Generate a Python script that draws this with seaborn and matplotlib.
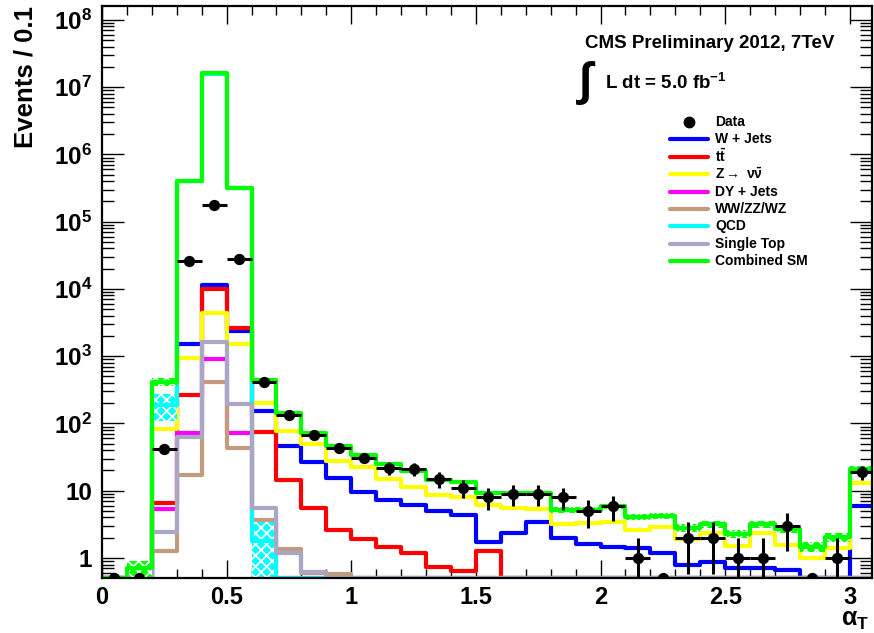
import numpy as np
import pandas as pd
import matplotlib
matplotlib.use("Agg")
import matplotlib.pyplot as plt
from matplotlib.lines import Line2D
from matplotlib.ticker import FixedLocator, LogLocator, NullFormatter, FixedFormatter
import seaborn as sns

# ---- binning: alpha_T in bins of 0.1 ----
edges = np.round(np.arange(0.0, 3.15, 0.1), 2)[:32]
centers = np.round((edges[:-1] + edges[1:]) / 2, 3)

# ---- observed events per bin ----
data = [0, 0, 42, 26000, 178000, 28000, 414, 134, 67, 43, 31, 22, 21, 15, 11, 8,
        9, 9, 8, 5, 6, 1, 0, 2, 2, 1, 1, 3, 0, 1, 19]

# ---- simulated backgrounds per bin ----
wjets = [0, 0, 125, 1520, 11500, 2370, 153, 46, 27, 15.5, 9.6, 7.2, 6.2, 5.0, 4.4, 1.73,
         2.35, 3.4, 2.0, 1.6, 1.46, 1.4, 1.19, 0.79, 0.86, 0.71, 0.71, 0.66, 0, 0, 5.9]
ttbar = [0, 0, 6.6, 265, 10000, 2630, 75, 14.5, 5.5, 2.6, 1.9, 1.46, 1.19, 0.73, 0.64, 1.27,
         0, 0, 0, 0, 0, 0, 0, 0, 0, 0, 0, 0, 0, 0, 0]
zinv = [0, 0, 83, 940, 4400, 1520, 200, 78, 50, 27.7, 22.5, 15, 11.4, 8.6, 8.1, 6.1,
        5.5, 5.3, 3.2, 3.3, 3.4, 2.6, 2.9, 1.9, 2.35, 1.5, 2.35, 1.56, 1.0, 1.4, 13]
dyjets = [0, 0, 5.3, 72, 910, 72, 3.2, 0, 0, 0, 0, 0, 0, 0, 0, 0,
          0, 0, 0, 0, 0, 0, 0, 0, 0, 0, 0, 0, 0, 0, 0]
diboson = [0, 0, 1.27, 17, 414, 43, 3.7, 1.36, 0.6, 0.58, 0, 0, 0, 0, 0, 0,
           0, 0, 0, 0, 0, 0, 0, 0, 0, 0, 0, 0, 0, 0, 0]
qcd = [0, 0.5, 190, 397000, 15900000, 315000, 1.8, 0, 0, 0, 0, 0, 0, 0, 0, 0,
       0, 0, 0, 0, 0, 0, 0, 0, 0, 0, 0, 0, 0, 0, 0]
qcd_err = [0, 0, 80, 0, 0, 0, 1.6, 0, 0, 0, 0, 0, 0, 0, 0, 0,
           0, 0, 0, 0, 0, 0, 0, 0, 0, 0, 0, 0, 0, 0, 0]
singletop = [0, 0, 2.4, 63, 1620, 195, 5.5, 1.19, 0.62, 0, 0, 0, 0, 0, 0, 0,
             0, 0, 0, 0, 0, 0, 0, 0, 0, 0, 0, 0, 0, 0, 0]
combined = [0.5, 0.7, 420, 400000, 16000000, 320000, 440, 143, 72, 46, 34, 25, 19.7, 14.5, 13.5, 9.3,
            9.3, 9.2, 5.2, 5.2, 5.9, 4.1, 4.2, 2.8, 3.2, 2.3, 3.2, 2.7, 1.46, 2.05, 21]
combined_err = [0, 0.2, 60, 0, 0, 0, 0, 0, 0, 0, 0, 0, 0.5, 0.5, 0.8, 0.6,
                0.6, 0.6, 0.5, 0.5, 0.5, 0.45, 0.45, 0.4, 0.4, 0.35, 0.4, 0.35, 0.25, 0.3, 2.5]

labels = ["W + Jets", r"t$\mathbf{\bar{t}}$", r"Z$\rightarrow$ $\mathrm{\nu\bar{\nu}}$", "DY + Jets",
          "WW/ZZ/WZ", "QCD", "Single Top", "Combined SM"]
colors = ["#0000ff", "#ff0000", "#ffff00", "#ff00ff", "#c49a7e", "#00ffff", "#a8a8c4", "#00ff00"]
series = [wjets, ttbar, zinv, dyjets, diboson, qcd, singletop, combined]

YMIN, YMAX = 0.504, 1.61e8
XMAX = 3.089

sns.set_style("ticks")
plt.rcParams["font.family"] = ["Liberation Sans", "DejaVu Sans"]
plt.rcParams["font.weight"] = "bold"
plt.rcParams["text.color"] = "black"
plt.rcParams["axes.labelcolor"] = "black"
plt.rcParams["xtick.color"] = "black"
plt.rcParams["ytick.color"] = "black"
plt.rcParams["xtick.labelcolor"] = "black"
plt.rcParams["ytick.labelcolor"] = "black"
plt.rcParams["mathtext.fontset"] = "custom"
plt.rcParams["mathtext.rm"] = "Liberation Sans:bold"
plt.rcParams["mathtext.bf"] = "Liberation Sans:bold"
plt.rcParams["mathtext.it"] = "Liberation Sans:bold:italic"
plt.rcParams["hatch.linewidth"] = 1.3

W, H = 874, 633
fig = plt.figure(figsize=(W / 100, H / 100), dpi=100)
ax = fig.add_axes([102 / W, 1 - 578 / H, (872 - 102) / W, (578 - 6) / H])
ax.set_yscale("log")


def band(values, errs, color, z):
    v = np.asarray(values, float)
    e = np.asarray(errs, float)
    m = e > 0
    lo = np.maximum(v - e, YMIN * 0.5)
    ax.bar(centers[m], (v + e)[m] - lo[m], bottom=lo[m], width=0.1, align="center",
           color=color, edgecolor="white", hatch="xxx", linewidth=0, zorder=z)


def step(values, color, z):
    frame = pd.DataFrame({"alpha_t": centers,
                          "events": np.maximum(np.asarray(values, float), YMIN)})
    sns.histplot(data=frame, x="alpha_t", weights="events", bins=list(edges),
                 element="step", fill=False, color=color, linewidth=3.0, ax=ax, zorder=z)


for i, (vals, col) in enumerate(zip(series, colors)):
    if vals is qcd:
        band(qcd, qcd_err, col, 2 + i * 2)
    if vals is combined:
        band(combined, combined_err, col, 2 + i * 2)
    step(vals, col, 3 + i * 2)

# observed points with Poisson errors
d = np.asarray(data, float)
nz = d > 0
yerr = np.sqrt(d[nz])
ax.errorbar(centers[nz], d[nz], xerr=0.05, yerr=[yerr, yerr], fmt="none",
            ecolor="black", elinewidth=2.2, capsize=0, zorder=30)
sns.scatterplot(x=centers, y=np.where(nz, d, YMIN), color="black", s=66,
                edgecolor="black", linewidth=0, ax=ax, zorder=31, legend=False)

ax.set_xlim(0, XMAX)
ax.set_ylim(YMIN, YMAX)

# ticks: inward on all four sides
ax.xaxis.set_major_locator(FixedLocator([0, 0.5, 1, 1.5, 2, 2.5, 3]))
ax.xaxis.set_major_formatter(FixedFormatter(["0", "0.5", "1", "1.5", "2", "2.5", "3"]))
ax.xaxis.set_minor_locator(FixedLocator(np.round(np.arange(0, 3.1, 0.1), 2)))
yt = [1, 10, 1e2, 1e3, 1e4, 1e5, 1e6, 1e7, 1e8]
ax.yaxis.set_major_locator(FixedLocator(yt))
ax.yaxis.set_major_formatter(FixedFormatter(
    ["1", "10"] + [r"$\mathbf{10^{%d}}$" % k for k in range(2, 9)]))
ax.yaxis.set_minor_locator(LogLocator(base=10, subs=np.arange(2, 10), numticks=20))
ax.yaxis.set_minor_formatter(NullFormatter())
ax.tick_params(which="both", direction="in", top=True, right=True, width=1.0,
               color="black", labelcolor="black")
ax.tick_params(axis="x", which="major", length=13, labelsize=17, pad=6)
ax.tick_params(axis="x", which="minor", length=6.5)
ax.tick_params(axis="y", which="major", length=16, labelsize=17.5, pad=7)
ax.tick_params(axis="y", which="minor", length=8.5)
for lab in ax.get_xticklabels() + ax.get_yticklabels():
    lab.set_fontweight("bold")
for s in ax.spines.values():
    s.set_linewidth(1.6)
    s.set_color("black")
    s.set_zorder(40)

ax.set_xlabel("")
ax.set_ylabel("Events / 0.1", fontsize=18.5, fontweight="bold", loc="top", labelpad=12,
              color="black")

# axis title for alpha_T
fig.text(869 / W, 1 - 620 / H, r"$\mathrm{\alpha}_{\mathbf{T}}$", ha="right", va="center", fontsize=18)

# header texts
fig.text(585 / W, 1 - 44 / H, "CMS Preliminary 2012, 7TeV", fontsize=13.5,
         fontweight="bold", va="center", ha="left")
fig.text(576 / W, 1 - 83 / H, r"$\int$", fontsize=34, va="center", ha="left")
fig.text(605 / W, 1 - 83 / H, r"L dt = 5.0 fb$^{\mathbf{-1}}$", fontsize=13.5,
         fontweight="bold", va="center", ha="left")

# legend block
row0, pitch = 122, 17.4
fig.add_artist(Line2D([689 / W], [1 - row0 / H], marker="o", color="black", markersize=7.5,
                      linestyle="none", transform=fig.transFigure))
fig.text(715 / W, 1 - row0 / H, "Data", fontsize=10, fontweight="bold", va="center")
for i, (lab, col) in enumerate(zip(labels, colors)):
    yy = 1 - (row0 + (i + 1) * pitch) / H
    fig.add_artist(Line2D([670 / W, 708 / W], [yy, yy], color=col, linewidth=3,
                          transform=fig.transFigure))
    fig.text(715 / W, yy, lab, fontsize=10, fontweight="bold", va="center")

fig.savefig("out.png", dpi=100)
